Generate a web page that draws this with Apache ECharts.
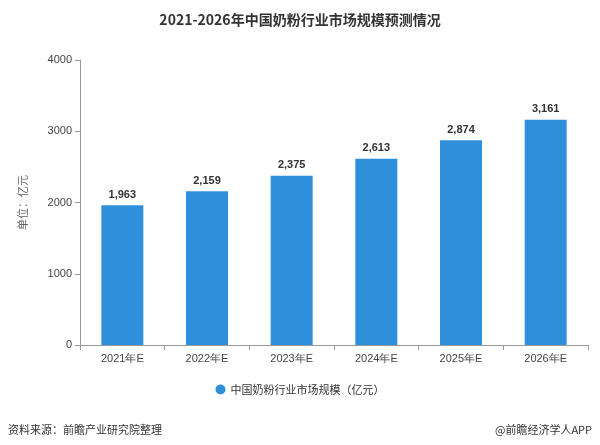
<!DOCTYPE html>
<html><head><meta charset="utf-8">
<script src="https://cdn.jsdelivr.net/npm/echarts@6/dist/echarts.min.js"></script>
<style>html,body{margin:0;padding:0;background:#fff}#c{width:600px;height:445px}</style>
</head><body><div id="c"></div>
<script>
const categories=['2021年E','2022年E','2023年E','2024年E','2025年E','2026年E'];
const values=[1963,2159,2375,2613,2874,3161];
const seriesName='中国奶粉行业市场规模（亿元）';
const chart=echarts.init(document.getElementById('c'));
chart.setOption({
  title:{text:'2021-2026年中国奶粉行业市场规模预测情况',left:'center',top:8,textStyle:{fontSize:14,fontWeight:'bold',color:'#333',fontFamily:'Noto Sans CJK SC'}},
  grid:{left:80,right:12,top:60,bottom:100},
  legend:{bottom:45,icon:'circle',itemWidth:10,itemHeight:10,textStyle:{fontSize:11,color:'#333',fontFamily:'Noto Sans CJK SC'}},
  xAxis:{type:'category',data:categories,axisLine:{lineStyle:{color:'#999'}},axisTick:{show:true,lineStyle:{color:'#999'}},axisLabel:{color:'#444',fontSize:11}},
  yAxis:{type:'value',min:0,max:4000,interval:1000,name:'单位：亿元',nameLocation:'middle',nameGap:52,nameTextStyle:{color:'#666',fontSize:11,fontFamily:'Noto Sans CJK SC'},
    axisLine:{show:true,lineStyle:{color:'#999'}},axisTick:{show:true,lineStyle:{color:'#999'}},axisLabel:{color:'#444',fontSize:11,formatter:v=>String(v)},splitLine:{show:false}},
  series:[{name:seriesName,type:'bar',data:values,barWidth:42,itemStyle:{color:'#2F8FDB'},
    label:{show:true,position:'top',fontSize:11,fontWeight:'bold',color:'#333',formatter:p=>p.value.toLocaleString('en-US')}}],
  graphic:[
    {type:'text',left:8,bottom:10,style:{text:'资料来源：前瞻产业研究院整理',fontSize:11,fill:'#333',fontFamily:'Noto Sans CJK SC'}},
    {type:'text',right:8,bottom:10,style:{text:'@前瞻经济学人APP',fontSize:11,fill:'#333',fontFamily:'Noto Sans CJK SC'}}
  ]
});
</script></body></html>
